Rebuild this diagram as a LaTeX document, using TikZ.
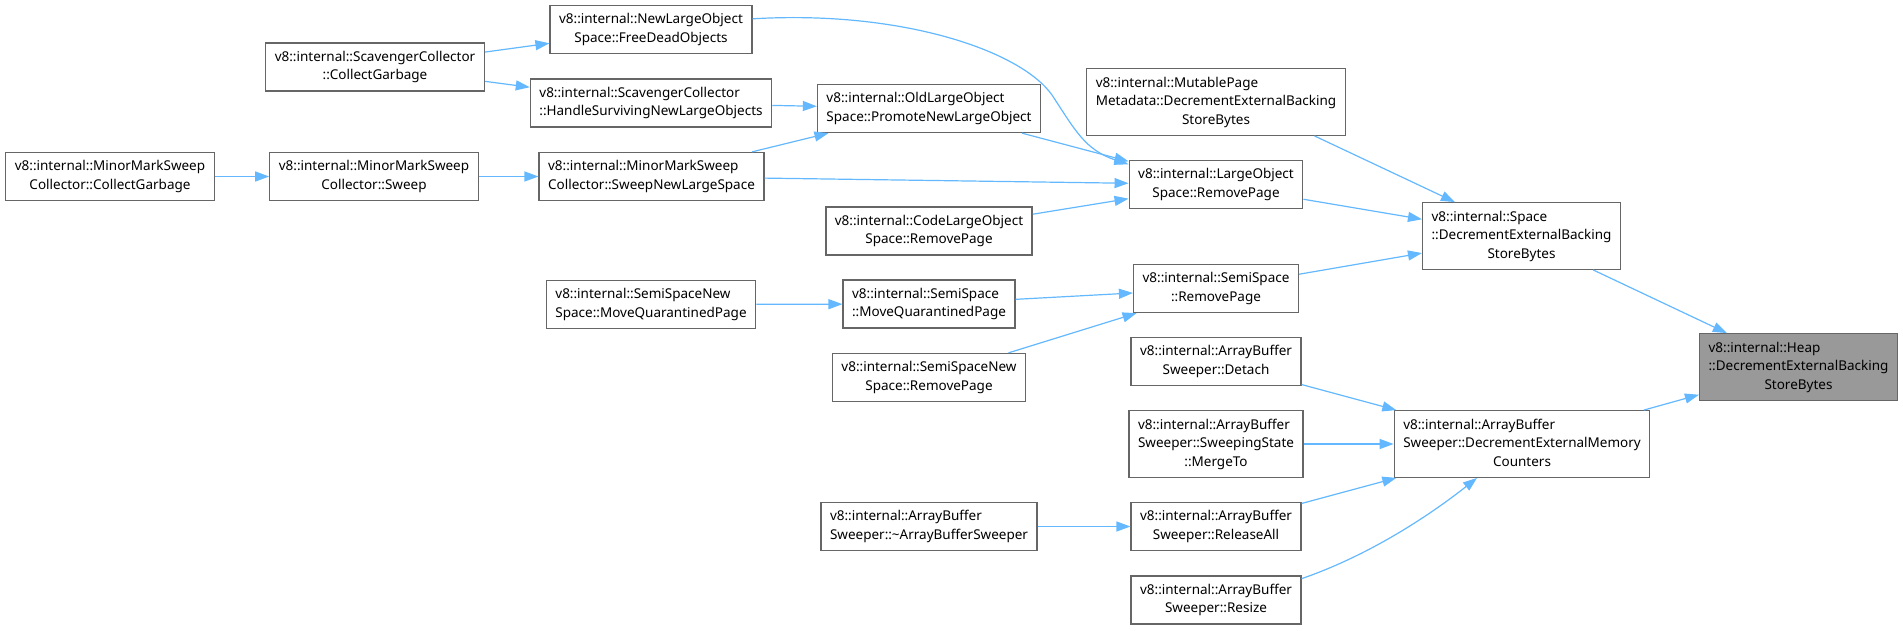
\documentclass[tikz,border=0pt]{standalone}
\usepackage{fontspec}
\setmainfont{Noto Sans}
\usetikzlibrary{arrows.meta}
\definecolor{Edge}{HTML}{63B8FF}
\definecolor{Frame}{HTML}{666666}
\definecolor{Root}{HTML}{999999}
\newcommand{\dxlabel}[2]{\begin{tabular}{@{}l@{}}#1\\\multicolumn{1}{@{}c@{}}{#2}\end{tabular}}

\begin{document}
\begin{tikzpicture}[x=1pt,y=-1pt,
    box/.style={draw=Frame,line width=1.3pt,fill=white,inner xsep=9pt,inner ysep=5.5pt,
                font=\fontsize{13.5}{18.5}\selectfont},
    arr/.style={-{Triangle[length=14pt,width=10pt]},Edge,line width=1.2pt}
  ]
    \useasboundingbox (0,0) rectangle (1903,630);
    % columns from left to right
    \node[box] (mmscg) at (110,176.5) {\dxlabel{v8::internal::MinorMarkSweep}{Collector::CollectGarbage}};
    \node[box] (sccg) at (375,67) {\dxlabel{v8::internal::ScavengerCollector}{::CollectGarbage}};
    \node[box] (sweep) at (374,176.5) {\dxlabel{v8::internal::MinorMarkSweep}{Collector::Sweep}};
    \node[box] (fdo) at (651,29.5) {\dxlabel{v8::internal::NewLargeObject}{Space::FreeDeadObjects}};
    \node[box] (hsnlo) at (651,103) {\dxlabel{v8::internal::ScavengerCollector}{::HandleSurvivingNewLargeObjects}};
    \node[box] (snls) at (651.5,176.5) {\dxlabel{v8::internal::MinorMarkSweep}{Collector::SweepNewLargeSpace}};
    \node[box] (ssnsmqp) at (651,304.5) {\dxlabel{v8::internal::SemiSpaceNew}{Space::MoveQuarantinedPage}};
    \node[box] (pnlo) at (929,108.5) {\dxlabel{v8::internal::OldLargeObject}{Space::PromoteNewLargeObject}};
    \node[box] (clos) at (929,231) {\dxlabel{v8::internal::CodeLargeObject}{Space::RemovePage}};
    \node[box] (ssmqp) at (929,304) {\dxlabel{v8::internal::SemiSpace}{::MoveQuarantinedPage}};
    \node[box] (ssnsrp) at (929,377.5) {\dxlabel{v8::internal::SemiSpaceNew}{Space::RemovePage}};
    \node[box] (dtor) at (929,526.5) {\dxlabel{v8::internal::ArrayBuffer}{Sweeper::\textasciitilde ArrayBufferSweeper}};
    \node[box] (mpm) at (1216,102) {\dxlabel{v8::internal::MutablePage\\Metadata::DecrementExternalBacking}{StoreBytes}};
    \node[box] (lorp) at (1216,184.5) {\dxlabel{v8::internal::LargeObject}{Space::RemovePage}};
    \node[box] (ssrp) at (1216,288.5) {\dxlabel{v8::internal::SemiSpace}{::RemovePage}};
    \node[box] (detach) at (1216,361.5) {\dxlabel{v8::internal::ArrayBuffer}{Sweeper::Detach}};
    \node[box] (merge) at (1216,444) {\dxlabel{v8::internal::ArrayBuffer\\Sweeper::SweepingState}{::MergeTo}};
    \node[box] (release) at (1216,526.5) {\dxlabel{v8::internal::ArrayBuffer}{Sweeper::ReleaseAll}};
    \node[box] (resize) at (1216,600) {\dxlabel{v8::internal::ArrayBuffer}{Sweeper::Resize}};
    \node[box] (space) at (1521.5,236) {\dxlabel{v8::internal::Space\\::DecrementExternalBacking}{StoreBytes}};
    \node[box] (demc) at (1522,444) {\dxlabel{v8::internal::ArrayBuffer\\Sweeper::DecrementExternalMemory}{Counters}};
    \node[box,fill=Root] (heap) at (1798.5,367) {\dxlabel{v8::internal::Heap\\::DecrementExternalBacking}{StoreBytes}};
    % callers
    \draw[arr] (mmscg)--(sweep); \draw[arr] (sweep)--(snls);
    \draw[arr] (sccg)--(fdo); \draw[arr] (sccg)--(hsnlo);
    \draw[arr] (hsnlo)--(pnlo); \draw[arr] (snls)--(pnlo); \draw[arr] (snls)--(lorp);
    \draw[arr] (fdo.6) .. controls (900,10) and (1020,50) .. (1052,95)
                       .. controls (1075,130) and (1085,150) .. (lorp.167);
    \draw[arr] (pnlo)--(lorp); \draw[arr] (clos)--(lorp);
    \draw[arr] (ssnsmqp)--(ssmqp); \draw[arr] (ssmqp)--(ssrp); \draw[arr] (ssnsrp)--(ssrp);
    \draw[arr] (dtor)--(release);
    \draw[arr] (mpm.-19)--(space.153); \draw[arr] (lorp)--(space); \draw[arr] (ssrp)--(space);
    \draw[arr] (detach)--(demc); \draw[arr] (merge)--(demc); \draw[arr] (release)--(demc);
    \draw[arr] (resize.14) .. controls (1370,555) and (1430,515) .. (demc.217);
    \draw[arr] (space)--(heap); \draw[arr] (demc)--(heap);
  \end{tikzpicture}
\end{document}
